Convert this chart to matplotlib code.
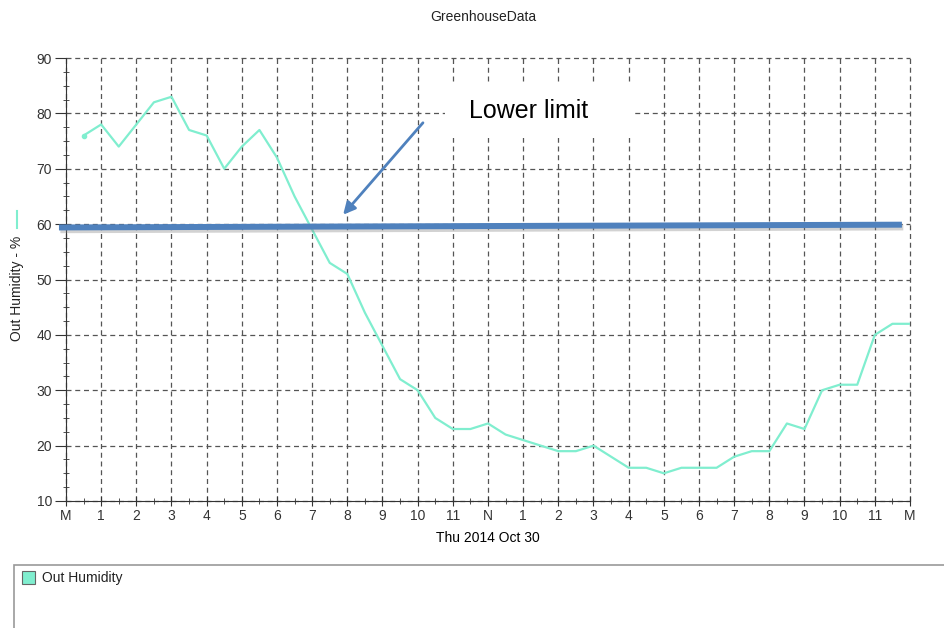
import matplotlib
matplotlib.use("Agg")
import matplotlib.pyplot as plt
import matplotlib.patheffects as pe
from matplotlib.patches import Rectangle

plt.rcParams['font.family'] = ['Liberation Sans', 'DejaVu Sans']

# half-hourly readings, Thu 2014 Oct 30
hours = [0.5, 1, 1.5, 2, 2.5, 3, 3.5, 4, 4.5, 5, 5.5, 6, 6.5, 7, 7.5, 8,
         8.5, 9, 9.5, 10, 10.5, 11, 11.5, 12, 12.5, 13, 13.5, 14, 14.5, 15, 15.5, 16,
         16.5, 17, 17.5, 18, 18.5, 19, 19.5, 20, 20.5, 21, 21.5, 22, 22.5, 23, 23.5, 24]
humidity = [76, 78, 74, 78, 82, 83, 77, 76, 70, 74, 77, 72, 65, 59, 53, 51,
            44, 38, 32, 30, 25, 23, 23, 24, 22, 21, 20, 19, 19, 20, 18, 16,
            16, 15, 16, 16, 16, 18, 19, 19, 24, 23, 30, 31, 31, 40, 42, 42]

tick_hours = list(range(0, 25))
tick_labels = ['M', '1', '2', '3', '4', '5', '6', '7', '8', '9', '10', '11', 'N',
               '1', '2', '3', '4', '5', '6', '7', '8', '9', '10', '11', 'M']

# hand drawn "lower limit" line and arrow
limit_x = [-0.2, 23.77]
limit_y = [59.4, 59.9]
arrow_tail = (10.15, 78.3)
arrow_head = (7.88, 61.7)

teal = '#80EECF'
blue = '#4F81BD'

fig = plt.figure(figsize=(9.45, 6.28), dpi=100)
ax = fig.add_axes([66 / 945, 1 - 501 / 628, (910 - 66) / 945, (501 - 58) / 628])

ax.plot(hours, humidity, color=teal, lw=1.6, zorder=3,
        marker='o', markersize=3, markevery=[0])

ax.set_xlim(0, 24)
ax.set_ylim(10, 90)
ax.set_xticks(tick_hours)
ax.set_xticklabels(tick_labels)
ax.set_xticks([h + 0.5 for h in tick_hours[:-1]], minor=True)
ax.set_yticks(range(10, 91, 10))
ax.set_yticks([v for v in [x * 2.5 for x in range(4, 37)] if v % 10 != 0], minor=True)

ax.tick_params(axis='x', which='major', direction='inout', length=7, labelsize=10, colors='#333333', pad=2)
ax.tick_params(axis='x', which='minor', direction='inout', length=5, colors='#333333')
ax.tick_params(axis='y', which='major', direction='out', length=8, labelsize=10, colors='#333333', pad=2)
ax.tick_params(axis='y', which='minor', direction='inout', length=5, colors='#333333')

ax.set_axisbelow(True)
ax.grid(True, which='major', color='#555555', linestyle=(0, (4, 3)), lw=0.9)
for gl in ax.get_xgridlines() + ax.get_ygridlines():
    gl.set_clip_on(False)
for s in ['top', 'right']:
    ax.spines[s].set_visible(False)
for s in ['left', 'bottom']:
    ax.spines[s].set_color('#333333')

ax.set_xlabel('Thu 2014 Oct 30', fontsize=10, labelpad=6)

# white box with label
ax.add_patch(Rectangle((10.78, 75.6), 5.31, 9.9, facecolor='white', edgecolor='none', zorder=2))
ax.text(13.14, 80.4, 'Lower limit', fontsize=18, ha='center', va='center', zorder=4)

ax.plot(limit_x, limit_y, color=blue, lw=4.3, solid_capstyle='butt', zorder=5, clip_on=False,
        path_effects=[pe.SimpleLineShadow(offset=(1, -2), shadow_color='gray', alpha=0.35), pe.Normal()])
ax.annotate('', xy=arrow_head, xytext=arrow_tail, zorder=5,
            arrowprops=dict(arrowstyle='-|>', color=blue, lw=2, mutation_scale=18, shrinkA=0, shrinkB=0))

# title and y label
fig.text(483 / 945, 1 - 17 / 628, 'GreenhouseData', fontsize=10, ha='center', va='center', color='#222222')
fig.text(17 / 945, 1 - 288 / 628, 'Out Humidity - %', fontsize=10, rotation=90, ha='center', va='center', color='#222222')
fig.add_artist(plt.Line2D([17 / 945, 17 / 945], [1 - 211 / 628, 1 - 228 / 628], color=teal, lw=1.5))

# legend panel
fig.add_artist(Rectangle((14 / 945, -0.1), 1.0, 0.1 + (628 - 565) / 628, facecolor='none',
                         edgecolor='#999999', lw=1.2, transform=fig.transFigure))
fig.add_artist(Rectangle((22 / 945, 1 - 584 / 628), 13 / 945, 13 / 628, facecolor=teal,
                         edgecolor='#666666', lw=0.8, transform=fig.transFigure))
fig.text(42 / 945, 1 - 578 / 628, 'Out Humidity', fontsize=10, ha='left', va='center', color='#222222')

fig.savefig('out.png', dpi=100)
